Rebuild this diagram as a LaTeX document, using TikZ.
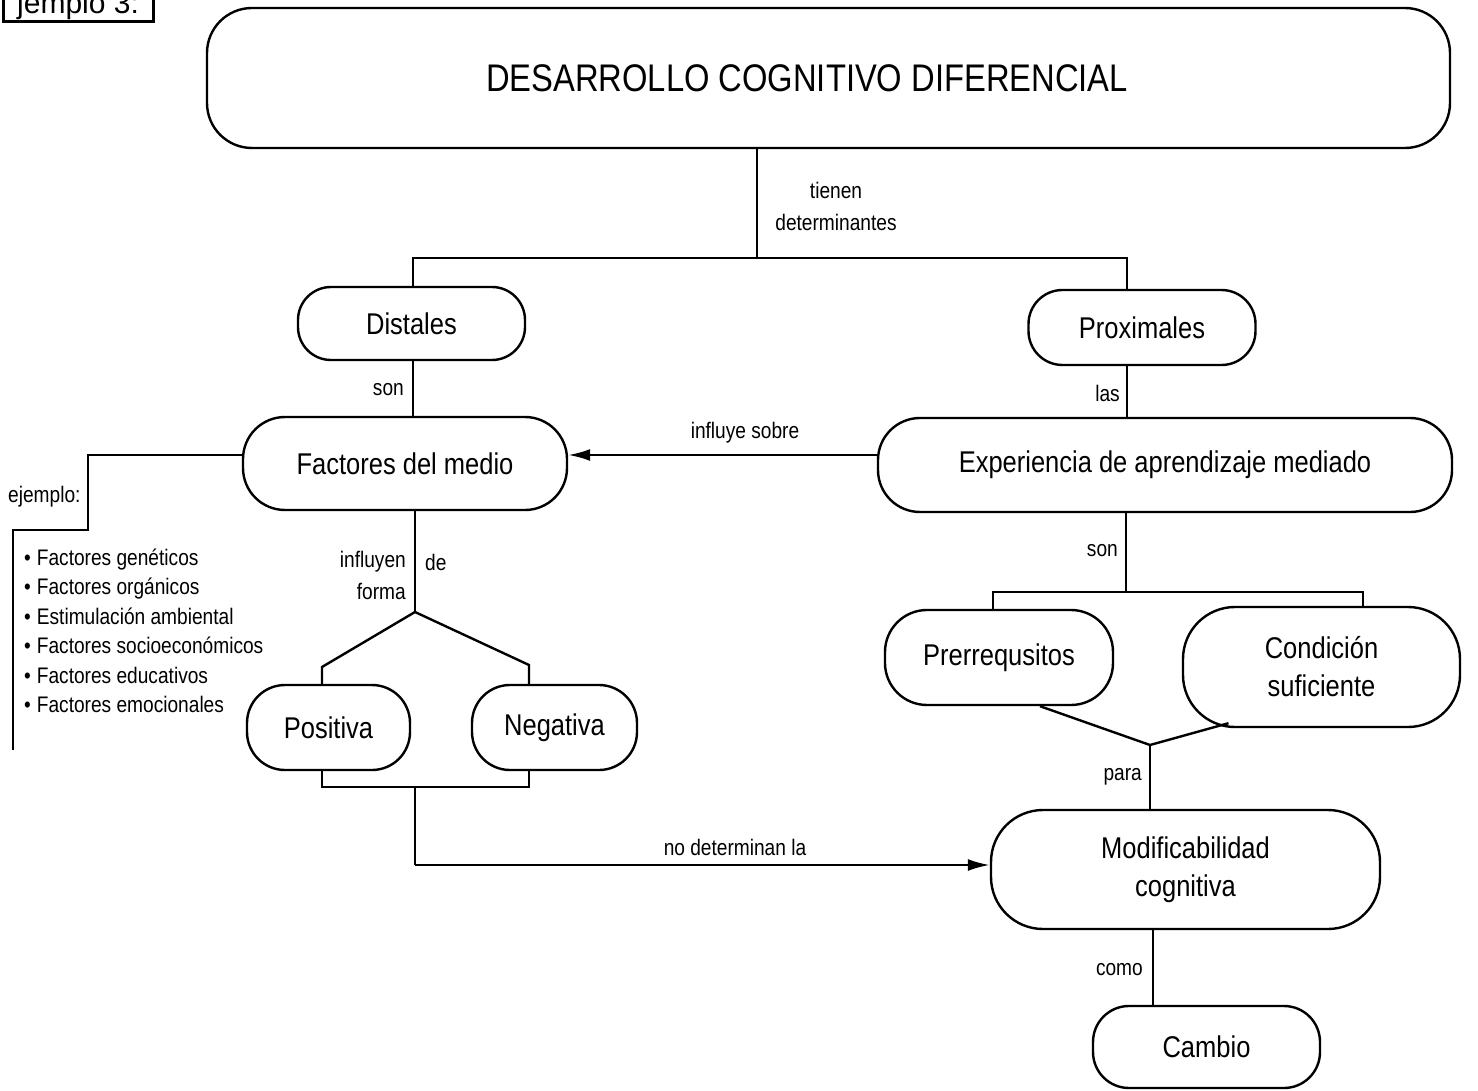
\documentclass[tikz,border=0pt]{standalone}
\usepackage{fontspec}
\setmainfont{Liberation Sans}[FakeStretch=0.85]
\newfontfamily\hdrfont{Liberation Sans}
\usetikzlibrary{arrows.meta}
\tikzset{
  pill/.style={draw, line width=2.4pt, rounded corners=#1, inner sep=0pt, align=center,
    font=\fontsize{30}{38}\selectfont},
  pill/.default=32pt,
  conn/.style={line width=2.4pt},
  arr/.style={line width=2.4pt, -{Latex[length=22pt,width=12pt]}},
  lbl/.style={inner sep=0pt, font=\fontsize{22.5}{29.5}\selectfont},
  listitem/.style={inner sep=0pt, anchor=base west, font=\fontsize{22.5}{29.5}\selectfont}
}
\begin{document}
\begin{tikzpicture}[x=1pt,y=-1pt]
\clip (0,0) rectangle (1478,1091);
\fill[white] (0,0) rectangle (1478,1091);

% corner tag
\draw[line width=3pt] (3,-20) rectangle (153,22);
\node[inner sep=0pt, anchor=base west, font=\hdrfont\fontsize{30}{30}\selectfont] (tag) at (17,14) {jemplo 3:};

% nodes
\node[pill=45pt, minimum width=1243pt, minimum height=140pt, font=\fontsize{38.5}{40}\selectfont] (title) at (828.5,78)
  {\raisebox{-4pt}{DESARROLLO COGNITIVO DIFERENCIAL}\hspace*{43pt}};
\node[pill=33pt, minimum width=227pt, minimum height=73pt] (dist) at (411.5,323.5) {Distales};
\node[pill=34pt, minimum width=227pt, minimum height=75pt] (prox) at (1142,327.5) {Proximales};
\node[pill=42pt, minimum width=324pt, minimum height=93pt] (fac) at (405,463.5) {Factores del medio};
\node[pill=42pt, minimum width=574pt, minimum height=94pt] (exp) at (1165,465) {Experiencia de aprendizaje mediado};
\node[pill=38pt, minimum width=163pt, minimum height=85pt] (pos) at (328.5,727.5) {Positiva};
\node[pill=38pt, minimum width=165pt, minimum height=85pt] (neg) at (554.5,727.5) {Negativa};
\node[pill=42pt, minimum width=228pt, minimum height=95pt] (pre) at (999,657.5) {Prerrequsitos};
\node[pill=52pt, minimum width=277pt, minimum height=120pt] (cond) at (1321.5,667) {Condición\\suficiente};
\node[pill=52pt, minimum width=389pt, minimum height=119pt] (mod) at (1185.5,869.5) {Modificabilidad\\cognitiva};
\node[pill=36pt, minimum width=227pt, minimum height=82pt] (cam) at (1206.5,1047) {Cambio};

% junction coordinates
\coordinate (jtop) at (757,258);
\coordinate (jL) at (413,258);
\coordinate (jR) at (1127,258);
\coordinate (jforma) at (415,612);
\coordinate (jPos) at (322,667);
\coordinate (jNeg) at (529,665);
\coordinate (bL) at (322,787);
\coordinate (bM) at (415,787);
\coordinate (bR) at (529,787);
\coordinate (jno) at (415,865);
\coordinate (jex) at (88,455);
\coordinate (jex2) at (88,530);
\coordinate (jex3) at (13,530);
\coordinate (listend) at (13,750);
\coordinate (json) at (1126,592);
\coordinate (jsL) at (993,592);
\coordinate (jsR) at (1363,592);
\coordinate (jpara) at (1150,745);

% connectors
\draw[conn] (title.south -| jtop) -- (jtop);
\draw[conn] (dist.north -| jL) -- (jL) -- (jR) -- (prox.north -| jR);
\draw[conn] (dist.south -| jL) -- (fac.north -| jL);
\draw[conn] (prox.south -| jR) -- (exp.north -| jR);
\draw[arr] (exp.west |- 0,455) -- (fac.east |- 0,455);
\draw[conn] (fac.west |- jex) -- (jex) -- (jex2) -- (jex3) -- (listend);
\draw[conn] (fac.south -| jforma) -- (jforma);
\draw[conn] (jforma) -- (jPos) -- (pos.north -| jPos);
\draw[conn] (jforma) -- (jNeg) -- (neg.north -| jNeg);
\draw[conn] (pos.south -| bL) -- (bL) -- (bR) -- (neg.south -| bR);
\draw[conn] (bM) -- (jno);
\draw[arr] (jno) -- (mod.west |- jno);
\draw[conn] (exp.south -| json) -- (json);
\draw[conn] (pre.north -| jsL) -- (jsL) -- (jsR) -- (cond.north -| jsR);
\draw[conn] ([xshift=41pt]pre.south) -- (jpara) -- ([xshift=-93pt,yshift=5pt]cond.south);
\draw[conn] (jpara) -- (mod.north -| jpara);
\draw[conn] (mod.south -| 1153,0) -- (cam.north -| 1153,0);

% labels
\node[lbl, align=center, font=\fontsize{22.5}{32}\selectfont] (ltienen) at (836,206) {tienen\\determinantes};
\node[lbl, anchor=east] (lson) at (404,390) {son};
\node[lbl, anchor=east] (llas) at (1120,393) {las};
\node[lbl] (linf) at (745,433) {influye sobre};
\node[lbl, anchor=west] (lejem) at (8,497) {ejemplo:};
\node[lbl, anchor=east] (linfl) at (406,562) {influyen};
\node[lbl, anchor=west] (lde) at (425,562) {de};
\node[lbl, anchor=east] (lforma) at (406,591) {forma};
\node[lbl] (lno) at (735,847) {no determinan la};
\node[lbl, anchor=east] (lson2) at (1118,551) {son};
\node[lbl, anchor=east] (lpara) at (1142,777) {para};
\node[lbl, anchor=east] (lcomo) at (1143,970) {como};

% list
\foreach \t [count=\i] in {Factores genéticos, Factores orgánicos, Estimulación ambiental,
  Factores socioeconómicos, Factores educativos, Factores emocionales}
  \node[listitem] (li\i) at (24,{565+29.5*(\i-1)}) {\textbullet\hspace{6pt}\t};
\end{tikzpicture}
\end{document}
